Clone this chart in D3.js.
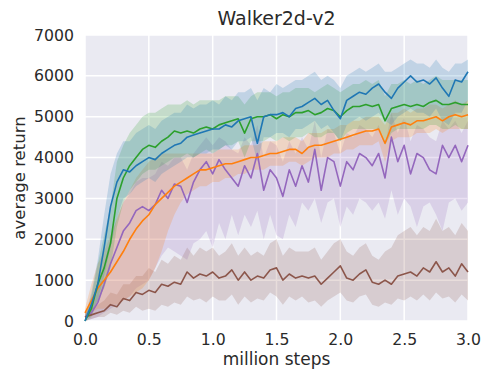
<!DOCTYPE html>
<html>
<head>
    <title>Walker2d-v2</title>
    <script src="https://d3js.org/d3.v7.min.js"></script>
    <style>
        body { margin: 0; background: #fff; }
        text { font-family: "DejaVu Sans", sans-serif; fill: #2a2a2a; }
    </style>
</head>
<body>
    <svg width="483" height="369"></svg>
    <script>
        // steps in millions, one sample every 0.05
        const steps = d3.range(61).map(i => +(i * 0.05).toFixed(2));
        const xTicks = [0.0, 0.5, 1.0, 1.5, 2.0, 2.5, 3.0];
        const yTicks = [0, 1000, 2000, 3000, 4000, 5000, 6000, 7000];

        const blueMean = [0,400,900,1800,2800,3400,3700,3650,3800,3900,
            4000,3950,4100,4200,4300,4350,4500,4550,4600,4650,
            4700,4700,4800,4750,4900,4950,5000,4350,5000,5050,
            5050,5100,5000,5200,5250,5350,5450,5300,5400,5150,
            4950,5400,5500,5600,5550,5700,5800,5600,5450,5700,
            5850,6000,5850,5900,5800,5950,5700,5500,5900,5850,6100];
        const blueLo = [0,200,500,1100,1800,2500,3000,3100,3300,3400,
            3500,3400,3600,3700,3800,3900,4000,4000,4100,4100,
            4200,4200,4300,4200,4400,4400,4500,3900,4500,4500,
            4600,4600,4500,4700,4700,4800,4900,4700,4800,4600,
            4400,4800,4900,5000,4900,5000,5100,4900,4800,5000,
            5100,5200,5100,5100,5000,5200,4900,4800,5100,5100,5400];
        const blueHi = [100,700,1500,2600,3600,4100,4400,4400,4600,4700,
            4800,4700,4900,5000,5100,5100,5300,5200,5300,5300,
            5400,5300,5500,5400,5600,5600,5700,5400,5700,5600,
            5800,5700,5800,5900,5900,6000,6100,5900,6000,5900,
            5700,6000,6100,6200,6100,6200,6300,6100,6100,6200,
            6300,6400,6300,6300,6200,6400,6200,6100,6300,6300,6400];

        const greenMean = [0,300,900,1300,1900,3000,3500,3800,4000,4200,
            4300,4250,4400,4500,4650,4600,4650,4600,4700,4750,
            4700,4800,4850,4900,4950,4600,4950,5000,5000,5050,
            4950,5050,5000,5100,5100,5150,5050,5100,5200,5150,
            5000,5150,5250,5250,5300,5250,5300,4900,5200,5250,
            5300,5250,5300,5250,5350,5400,5300,5300,5350,5300,5300];
        const greenLo = [0,100,500,800,1300,2300,2900,3200,3400,3600,
            3700,3700,3800,3900,4000,4000,4100,4000,4100,4200,
            4100,4200,4300,4300,4400,4000,4400,4400,4400,4500,
            4400,4500,4400,4500,4500,4600,4500,4500,4600,4600,
            4400,4600,4700,4700,4700,4700,4700,4300,4600,4700,
            4700,4700,4700,4700,4800,4800,4700,4700,4800,4700,4700];
        const greenHi = [100,600,1400,2100,2800,3900,4300,4600,4800,5000,
            5100,5100,5200,5300,5300,5300,5400,5300,5400,5400,
            5400,5400,5500,5500,5500,5300,5500,5600,5600,5600,
            5500,5600,5600,5700,5700,5700,5600,5700,5800,5700,
            5600,5700,5800,5800,5900,5800,5900,5500,5800,5800,
            5900,5800,5900,5800,5900,6000,5900,5900,5900,5900,5900];

        const orangeMean = [200,500,800,1000,1200,1450,1700,2000,2250,2450,
            2600,2850,3000,3150,3300,3400,3500,3600,3700,3700,
            3750,3800,3850,3850,3900,3950,4000,4000,4050,4100,
            4100,4150,4200,4200,4100,4250,4300,4300,4350,4400,
            4450,4500,4550,4600,4650,4650,4700,4350,4750,4800,
            4850,4800,4900,4900,4950,5000,4900,5000,5050,5000,5050];
        const orangeLo = [100,200,300,300,400,400,500,600,700,800,
            1000,1300,1700,2200,2600,2900,3100,3200,3300,3300,
            3400,3400,3500,3500,3600,3600,3700,3700,3700,3800,
            3800,3800,3900,3900,3800,3900,4000,4000,4000,4100,
            4100,4200,4200,4300,4300,4300,4400,3900,4400,4500,
            4500,4500,4600,4600,4600,4700,4600,4700,4700,4700,4700];
        const orangeHi = [300,900,1400,1700,2100,2500,2900,3200,3500,3700,
            3900,4000,4100,4100,4100,4100,4100,4100,4100,4100,
            4100,4200,4200,4200,4200,4300,4300,4300,4400,4400,
            4400,4500,4500,4500,4400,4600,4600,4600,4700,4700,
            4800,4800,4900,4900,5000,5000,5000,4800,5100,5100,
            5200,5100,5200,5200,5300,5300,5200,5300,5400,5300,5400];

        const purpleMean = [100,200,450,900,1400,1800,2200,2400,2700,2800,
            2700,2850,3200,3000,3350,3300,2900,3400,3700,3900,
            3600,3950,3700,3500,3300,3800,3500,4100,3200,3700,
            3500,3050,3700,3300,3800,3400,4200,3200,4000,3900,
            3300,3900,3700,4100,4000,3800,4100,3500,4500,3900,
            4300,3600,4100,4000,3700,3600,4300,4000,4300,3900,4300];
        const purpleLo = [0,50,100,200,300,400,500,600,800,900,
            1000,1300,1600,1800,1700,1600,1500,1900,2000,2200,
            1800,2400,2000,2600,2100,2600,2300,2700,2000,2600,
            2100,2000,2600,2300,2900,2700,3000,2400,2900,3000,
            2300,2800,2600,3000,2900,2700,2900,2500,3200,2600,
            3000,2800,2300,2800,2900,2600,2200,2900,3000,2700,2900];
        const purpleHi = [200,400,800,1400,2000,2500,2900,3100,3400,3500,
            3500,3600,3900,3800,4000,4000,3700,4100,4300,4500,
            4300,4500,4400,4200,4100,4500,4300,4800,4000,4400,
            4300,3900,4400,4100,4500,4200,4900,4000,4700,4600,
            4100,4600,4500,4800,4700,4500,4800,4300,5100,4600,
            5000,4400,4800,4700,4500,4400,4900,4700,4900,4600,4900];

        const brownMean = [100,150,200,250,400,350,550,500,700,650,
            750,700,900,850,950,900,1200,1050,1150,1100,
            1200,1050,1100,1250,1000,1200,1000,1100,1050,1250,
            1300,1000,1150,1050,1100,1050,1100,900,1050,1200,
            1350,1050,1000,1150,1250,950,900,1000,900,1100,
            1150,1200,1100,1300,1200,1450,1200,1300,1100,1400,1200];
        const brownLo = [0,50,100,100,200,150,250,200,350,250,
            300,250,400,350,450,400,600,500,550,450,
            600,500,500,650,400,600,450,550,500,700,
            600,400,600,500,600,450,500,350,500,600,
            700,500,450,600,650,400,350,450,400,550,
            500,600,500,650,500,700,550,600,450,650,500];
        const brownHi = [200,300,400,500,700,650,900,900,1100,1100,
            1300,1200,1500,1400,1600,1500,1800,1600,1800,1700,
            1800,1600,1700,1900,1600,1800,1600,1700,1600,1900,
            2000,1600,1800,1700,1700,1700,1800,1500,1700,1900,
            2000,1700,1600,1800,1900,1600,1500,1700,1800,2100,
            2200,2300,2100,2300,2200,2500,2200,2300,2100,2400,2200];

        const series = [
            {name: "purple", color: "#9467bd", mean: purpleMean, lo: purpleLo, hi: purpleHi},
            {name: "brown",  color: "#8c564b", mean: brownMean,  lo: brownLo,  hi: brownHi},
            {name: "orange", color: "#ff7f0e", mean: orangeMean, lo: orangeLo, hi: orangeHi},
            {name: "green",  color: "#2ca02c", mean: greenMean,  lo: greenLo,  hi: greenHi},
            {name: "blue",   color: "#1f77b4", mean: blueMean,   lo: blueLo,   hi: blueHi}
        ];

        const svg = d3.select("svg"),
              width = +svg.attr("width"),
              height = +svg.attr("height"),
              margin = {top: 35, right: 15, bottom: 48, left: 85};

        const x = d3.scaleLinear().domain([0, 3]).range([margin.left, width - margin.right]);
        const y = d3.scaleLinear().domain([0, 7000]).range([height - margin.bottom, margin.top]);

        // seaborn darkgrid background
        svg.append("rect")
           .attr("x", margin.left).attr("y", margin.top)
           .attr("width", width - margin.left - margin.right)
           .attr("height", height - margin.top - margin.bottom)
           .attr("fill", "#eaeaf2");

        const grid = svg.append("g");
        grid.selectAll(".vx").data(xTicks).enter().append("line")
            .attr("x1", d => x(d)).attr("x2", d => x(d))
            .attr("y1", margin.top).attr("y2", height - margin.bottom)
            .attr("stroke", "#fff").attr("stroke-width", 1.5);
        grid.selectAll(".hy").data(yTicks).enter().append("line")
            .attr("y1", d => y(d)).attr("y2", d => y(d))
            .attr("x1", margin.left).attr("x2", width - margin.right)
            .attr("stroke", "#fff").attr("stroke-width", 1.5);

        const area = d3.area()
            .x((d, i) => x(steps[i]))
            .y0(d => y(d[0]))
            .y1(d => y(d[1]));
        const line = d3.line()
            .x((d, i) => x(steps[i]))
            .y(d => y(d));

        // bands first, then the mean lines on top
        series.forEach(s => {
            if (s.mean.length !== steps.length) console.error(s.name, s.mean.length);
            svg.append("path")
               .datum(s.lo.map((v, i) => [v, s.hi[i]]))
               .attr("d", area)
               .attr("fill", s.color)
               .attr("fill-opacity", 0.2);
        });
        series.forEach(s => {
            svg.append("path")
               .datum(s.mean)
               .attr("d", line)
               .attr("fill", "none")
               .attr("stroke", s.color)
               .attr("stroke-width", 1.6)
               .attr("stroke-linejoin", "round");
        });

        // axes (no domain lines, no tick marks)
        const xAxis = svg.append("g")
            .attr("transform", `translate(0,${height - margin.bottom})`)
            .call(d3.axisBottom(x).tickValues(xTicks).tickFormat(d3.format(".1f")).tickSize(0).tickPadding(13));
        const yAxis = svg.append("g")
            .attr("transform", `translate(${margin.left},0)`)
            .call(d3.axisLeft(y).tickValues(yTicks).tickFormat(d3.format("d")).tickSize(0).tickPadding(11));
        [xAxis, yAxis].forEach(a => {
            a.select(".domain").remove();
            a.selectAll("text").attr("font-size", 15.7).attr("font-family", "DejaVu Sans").attr("fill", "#2a2a2a");
        });

        svg.append("text")
           .attr("x", (margin.left + width - margin.right) / 2)
           .attr("y", 25)
           .attr("text-anchor", "middle")
           .attr("font-size", 19)
           .text("Walker2d-v2");

        svg.append("text")
           .attr("x", (margin.left + width - margin.right) / 2)
           .attr("y", 364.5)
           .attr("text-anchor", "middle")
           .attr("font-size", 17)
           .text("million steps");

        svg.append("text")
           .attr("transform", "translate(25,178) rotate(-90)")
           .attr("text-anchor", "middle")
           .attr("font-size", 16.5)
           .text("average return");
    </script>
</body>
</html>
